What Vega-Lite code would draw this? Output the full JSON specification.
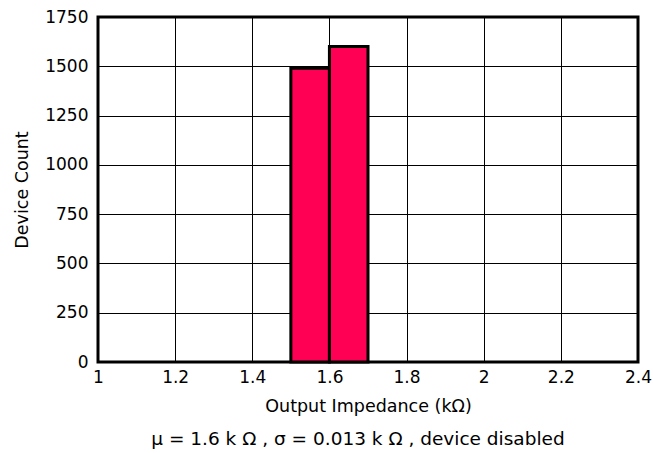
{
  "$schema": "https://vega.github.io/schema/vega-lite/v6.json",
  "width": 540,
  "height": 345,
  "autosize": {"type": "none"},
  "padding": {"left": 98, "top": 17, "right": 15, "bottom": 91},
  "background": "white",
  "config": {
    "font": "DejaVu Sans",
    "view": {"stroke": "black", "strokeWidth": 3}
  },
  "title": {
    "text": "μ  = 1.6 k Ω ,  σ  = 0.013 k Ω , device disabled",
    "orient": "bottom",
    "anchor": "middle",
    "fontSize": 18.5,
    "fontWeight": "normal",
    "color": "black",
    "offset": 15,
    "dx": -10
  },
  "data": {
    "values": [
      {"bin_start": 1.5, "bin_end": 1.6, "count": 1490},
      {"bin_start": 1.6, "bin_end": 1.7, "count": 1600}
    ]
  },
  "mark": {"type": "rect", "fill": "#FF0055", "stroke": "black", "strokeWidth": 3},
  "encoding": {
    "x": {
      "field": "bin_start",
      "type": "quantitative",
      "scale": {"domain": [1, 2.4], "nice": false},
      "axis": {
        "values": [1, 1.2, 1.4, 1.6, 1.8, 2, 2.2, 2.4],
        "format": "~g",
        "title": "Output Impedance (kΩ)",
        "titleFontSize": 17.5,
        "titleFontWeight": "normal",
        "titleColor": "black",
        "titlePadding": 12,
        "labelFontSize": 17,
        "labelColor": "black",
        "labelPadding": 7,
        "labelFlush": false,
        "ticks": false,
        "domain": false,
        "grid": true,
        "gridColor": "black",
        "gridWidth": 1
      }
    },
    "x2": {"field": "bin_end"},
    "y": {
      "field": "count",
      "type": "quantitative",
      "scale": {"domain": [0, 1750], "nice": false},
      "axis": {
        "values": [0, 250, 500, 750, 1000, 1250, 1500, 1750],
        "format": "d",
        "title": "Device Count",
        "titleFontSize": 17.5,
        "titleFontWeight": "normal",
        "titleColor": "black",
        "titlePadding": 13,
        "labelFontSize": 17,
        "labelColor": "black",
        "labelPadding": 10,
        "ticks": false,
        "domain": false,
        "grid": true,
        "gridColor": "black",
        "gridWidth": 1
      }
    },
    "y2": {"datum": 0}
  }
}
